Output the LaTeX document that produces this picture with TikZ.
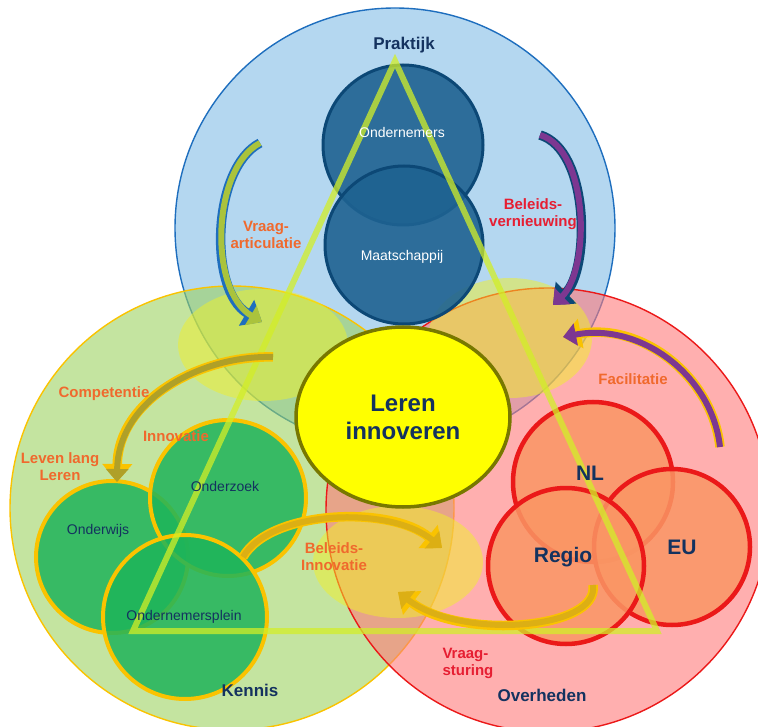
\documentclass[tikz,border=0pt]{standalone}
\usepackage{fontspec}
\setmainfont{Liberation Sans}
\usepackage{tikz}
\usetikzlibrary{shapes.geometric,arrows.meta}

\definecolor{skyfill}{RGB}{130,188,230}
\definecolor{skyline}{RGB}{30,110,190}
\definecolor{leaffill}{RGB}{157,210,97}
\definecolor{goldline}{RGB}{250,195,0}
\definecolor{rosefill}{RGB}{255,122,122}
\definecolor{redline}{RGB}{235,25,25}
\definecolor{navyfill}{RGB}{30,98,145}
\definecolor{navyline}{RGB}{12,72,118}
\definecolor{grassfill}{RGB}{30,180,90}
\definecolor{peachfill}{RGB}{250,150,100}
\definecolor{limeline}{RGB}{210,238,40}
\definecolor{glowfill}{RGB}{240,240,40}
\definecolor{corefill}{RGB}{255,255,0}
\definecolor{coreline}{RGB}{120,120,0}
\definecolor{navytext}{RGB}{20,50,95}
\definecolor{orangetext}{RGB}{240,105,45}
\definecolor{redtext}{RGB}{230,30,50}
\definecolor{olivearrow}{RGB}{170,195,60}
\definecolor{purplearrow}{RGB}{125,55,145}
\definecolor{goldarrow}{RGB}{220,175,20}
\definecolor{mudarrow}{RGB}{175,160,40}

% curved block arrow: fill colour, outline colour, path
\newcommand{\flowarrow}[3]{%
  \draw[line width=9.5pt,draw=#2,-{Triangle[width=29pt,length=18pt]}] #3;
  \draw[line width=6pt,draw=#1,-{Triangle[width=22pt,length=13pt]}] #3;}

\begin{document}
\begin{tikzpicture}[x=1pt,y=-1pt,
  bigring/.style={circle,minimum size=#1,fill opacity=0.6,line width=1.4pt},
  glow/.style={ellipse,minimum width=170pt,minimum height=112pt,fill=glowfill,fill opacity=0.5},
  navyring/.style={circle,minimum size=#1,fill=navyfill,fill opacity=0.9,draw=navyline,line width=3pt},
  grassring/.style={circle,minimum size=#1,fill=grassfill,fill opacity=0.85,draw=goldline,line width=4pt},
  peachring/.style={circle,minimum size=#1,fill=peachfill,fill opacity=0.85,draw=redline,line width=4.5pt},
  place/.style={text=navytext,font=\bfseries\fontsize{17}{19}\selectfont},
  inner/.style={text=navytext,font=\fontsize{14}{16}\selectfont},
  region/.style={text=navytext,font=\bfseries\fontsize{21}{23}\selectfont},
  flowtxt/.style={align=center,font=\bfseries\fontsize{15}{17}\selectfont}]
\useasboundingbox (0,0) rectangle (758,727);

% three domains
\node[bigring=440pt,fill=skyfill,draw=skyline] (praktijk) at (395,228) {};
\node[bigring=444pt,fill=leaffill,draw=goldline] (kennis) at (232,508) {};
\node[bigring=444pt,fill=rosefill,draw=redline] (overheden) at (548,510) {};

% overlaps
\node[glow] (glowleft) at (263,345) {};
\node[glow,minimum width=164pt,minimum height=120pt] (glowright) at (510,338) {};
\node[glow] (glowbottom) at (398,562) {};

% praktijk
\node[navyring=160pt] (ondernemers) at (403,145) {};
\node[navyring=158pt] (maatschappij) at (404,245) {};

% kennis
\node[grassring=152pt] (onderwijs) at (112,557) {};
\node[grassring=156pt] (onderzoek) at (228,498) {};
\node[grassring=164pt] (plein) at (185,617) {};

% overheden
\node[peachring=160pt] (nl) at (593,482) {};
\node[peachring=156pt] (eu) at (672,547) {};
\node[peachring=156pt] (regio) at (566,566) {};

% centre
\node[ellipse,minimum width=214pt,minimum height=180pt,fill=corefill,draw=coreline,
  line width=3.5pt,text=navytext,align=center,
  font=\bfseries\fontsize{24}{28}\selectfont] (leren) at (403,417) {Leren\\innoveren};

% triangle
\coordinate (top) at (395,61);
\coordinate (left) at (133,631);
\coordinate (right) at (657,631);
\draw[draw=limeline,line width=6pt,draw opacity=0.75] (top) -- (left) -- (right) -- cycle;

% flows
\coordinate (va1) at (260,143);
\coordinate (va2) at (262,322);
\coordinate (bv1) at (540,135);
\coordinate (bv2) at (553,305);
\coordinate (fa1) at (720,447);
\coordinate (fa2) at (563,337);
\coordinate (co1) at (273,357);
\coordinate (co2) at (117,482);
\coordinate (bi1) at (243,557);
\coordinate (bi2) at (442,548);
\coordinate (vs1) at (593,585);
\coordinate (vs2) at (398,592);
\flowarrow{olivearrow}{skyline}{(va1) .. controls (212,168) and (208,290) .. (va2)}
\flowarrow{purplearrow}{navyline}{(bv1) .. controls (590,150) and (590,270) .. (bv2)}
\flowarrow{purplearrow}{goldline}{(fa1) .. controls (712,375) and (640,322) .. (fa2)}
\flowarrow{mudarrow}{goldline}{(co1) .. controls (200,355) and (118,400) .. (co2)}
\flowarrow{goldarrow}{goldline}{(bi1) .. controls (270,510) and (390,505) .. (bi2)}
\flowarrow{goldarrow}{goldline}{(vs1) .. controls (600,630) and (460,640) .. (vs2)}

% labels
\node[place] (praktijktxt) at (404,45) {Praktijk};
\node[place] (kennistxt) at (250,690) {Kennis};
\node[place] (overhedentxt) at (542,695) {Overheden};
\node[inner,text=white] (ondernemerstxt) at (402,132) {Ondernemers};
\node[inner,text=white] (maatschappijtxt) at (402,257) {Maatschappij};
\node[inner] (onderwijstxt) at (98,531) {Onderwijs};
\node[inner] (onderzoektxt) at (225,486) {Onderzoek};
\node[inner] (pleintxt) at (184,617) {Ondernemersplein};
\node[region] (nltxt) at (590,473) {NL};
\node[region] (eutxt) at (682,547) {EU};
\node[region] (regiotxt) at (563,557) {Regio};
\node[flowtxt,text=orangetext] (vatxt) at (266,235) {Vraag-\\articulatie};
\node[flowtxt,text=redtext] (bvtxt) at (533,214) {Beleids-\\vernieuwing};
\node[flowtxt,text=orangetext] (cotxt) at (104,394) {Competentie};
\node[flowtxt,text=orangetext] (intxt) at (176,436) {Innovatie};
\node[flowtxt,text=orangetext] (lltxt) at (60,467) {Leven lang\\Leren};
\node[flowtxt,text=orangetext] (bitxt) at (334,557) {Beleids-\\Innovatie};
\node[flowtxt,text=orangetext] (fatxt) at (633,379) {Facilitatie};
\node[flowtxt,text=redtext,align=left,anchor=west] (vstxt) at (439,663) {Vraag-\\sturing};
\end{tikzpicture}
\end{document}
